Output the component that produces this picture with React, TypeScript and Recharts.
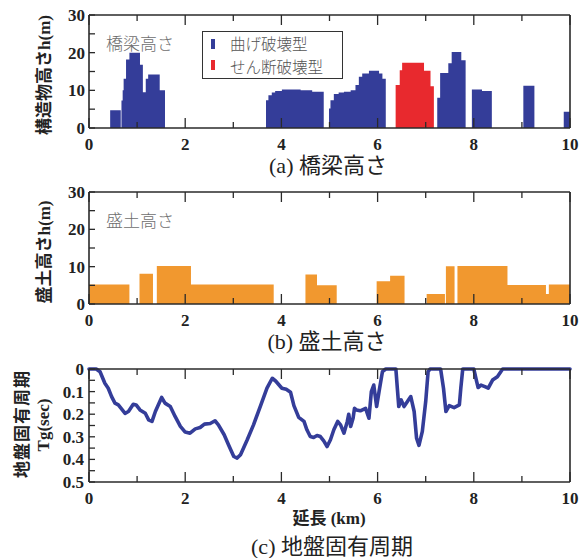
import React from 'react';
import { ComposedChart, Area, Line, XAxis, YAxis } from 'recharts';

// ---------- data ----------
const bridgeKm = [0, 0.44, 0.66, 0.675, 0.70, 0.72, 0.77, 0.84, 1.06, 1.12, 1.18, 1.23, 1.47, 1.58, 3.68, 3.73, 3.80, 3.87, 4.01, 4.40, 4.64, 4.88, 4.99, 5.02, 5.09, 5.19, 5.30, 5.44, 5.54, 5.61, 5.68, 5.82, 6.03, 6.10, 6.17, 6.375, 6.46, 6.51, 6.965, 7.10, 7.17, 7.24, 7.30, 7.47, 7.54, 7.74, 7.83, 7.96, 8.17, 8.375, 9.03, 9.26, 9.87, 10];
const bendH = [0, 4.7, 0, 7.3, 10, 13.1, 18.2, 20, 16.8, 9.5, 13.1, 14.2, 10, 0, 7.4, 8.7, 9.4, 9.8, 10.2, 10.0, 9.6, 0, 5.2, 7.4, 9.0, 9.4, 9.6, 10, 11.4, 13.6, 14.5, 15.2, 14.5, 13.1, 0, 0, 0, 0, 0, 0, 0, 8.0, 14.6, 17.2, 20.2, 18, 0, 10.2, 9.8, 0, 11.2, 0, 4.3, 4.3];
const shearH = [0, 0, 0, 0, 0, 0, 0, 0, 0, 0, 0, 0, 0, 0, 0, 0, 0, 0, 0, 0, 0, 0, 0, 0, 0, 0, 0, 0, 0, 0, 0, 0, 0, 0, 0, 11.4, 15.3, 17.3, 15.2, 11.1, 0, 0, 0, 0, 0, 0, 0, 0, 0, 0, 0, 0, 0, 0];

const fillKm = [0, 0.84, 1.05, 1.33, 1.41, 2.12, 3.84, 4.50, 4.74, 5.15, 5.98, 6.26, 6.56, 7.02, 7.40, 7.42, 7.60, 7.66, 8.70, 9.50, 9.56, 10];
const fillH = [5.2, 0, 8.1, 0, 10.2, 5.2, 0, 7.9, 5.0, 0, 6.1, 7.6, 0, 2.7, 0, 10.1, 0, 10.2, 5.1, 2.7, 5.2, 5.2];

const tgKm = [0, 0.15, 0.23, 0.33, 0.40, 0.47, 0.54, 0.61, 0.75, 0.82, 0.92, 0.98, 1.06, 1.17, 1.24, 1.31, 1.38, 1.51, 1.58, 1.69, 1.79, 1.90, 2.00, 2.10, 2.21, 2.31, 2.40, 2.52, 2.62, 2.69, 2.81, 2.90, 3.01, 3.08, 3.15, 3.29, 3.42, 3.56, 3.70, 3.81, 3.88, 4.01, 4.10, 4.19, 4.26, 4.36, 4.47, 4.53, 4.60, 4.67, 4.74, 4.81, 4.88, 4.95, 5.02, 5.09, 5.17, 5.23, 5.30, 5.37, 5.40, 5.44, 5.49, 5.52, 5.56, 5.64, 5.75, 5.82, 5.87, 5.92, 5.98, 6.03, 6.10, 6.17, 6.38, 6.41, 6.44, 6.49, 6.55, 6.62, 6.69, 6.76, 6.81, 6.86, 6.93, 7.00, 7.05, 7.09, 7.31, 7.37, 7.42, 7.49, 7.59, 7.70, 7.73, 7.77, 8.00, 8.06, 8.09, 8.15, 8.23, 8.30, 8.39, 8.49, 8.60, 10];
const tgSec = [0, 0, 0.012, 0.063, 0.085, 0.122, 0.151, 0.159, 0.196, 0.188, 0.156, 0.159, 0.181, 0.196, 0.225, 0.232, 0.188, 0.126, 0.151, 0.166, 0.210, 0.254, 0.279, 0.284, 0.265, 0.259, 0.244, 0.241, 0.229, 0.247, 0.291, 0.335, 0.387, 0.394, 0.379, 0.313, 0.247, 0.166, 0.085, 0.041, 0.053, 0.085, 0.09, 0.103, 0.162, 0.214, 0.232, 0.269, 0.299, 0.303, 0.294, 0.299, 0.318, 0.343, 0.313, 0.269, 0.232, 0.247, 0.284, 0.232, 0.200, 0.254, 0.218, 0.174, 0.181, 0.185, 0.174, 0.218, 0.100, 0.071, 0.166, 0.100, 0.012, 0, 0, 0.085, 0.166, 0.137, 0.166, 0.144, 0.122, 0.188, 0.306, 0.338, 0.276, 0.144, 0.012, 0, 0, 0.085, 0.188, 0.162, 0.171, 0.159, 0.085, 0, 0, 0.056, 0.082, 0.071, 0.078, 0.085, 0.049, 0.034, 0, 0];

const kmTicks = [0, 1, 2, 3, 4, 5, 6, 7, 8, 9, 10];
const kmLabels = [0, 2, 4, 6, 8, 10];
const heightTicks = [0, 5, 10, 15, 20, 25, 30];
const heightLabels = [0, 10, 20, 30];
const tgTicks = [0, 0.05, 0.1, 0.15, 0.2, 0.25, 0.3, 0.35, 0.4, 0.45, 0.5];
const tgLabels = [0, 0.1, 0.2, 0.3, 0.4, 0.5];
const legendNames = ['曲げ破壊型', 'せん断破壊型'];

const bridgeData = bridgeKm.map((x, i) => ({ x, bend: bendH[i], shear: shearH[i] }));
const fillData = fillKm.map((x, i) => ({ x, h: fillH[i] }));
const tgData = tgKm.map((x, i) => ({ x, tg: tgSec[i] }));

// ---------- styles ----------
const SERIF = "'Liberation Serif', 'Noto Sans CJK JP', serif";
const JP = "'Noto Sans CJK JP', sans-serif";
const AXIS = '#2a2a2a';
const BLUE = '#343d99';
const RED = '#e8292e';
const ORANGE = '#f1982f';

const axisLine = { stroke: AXIS, strokeWidth: 1.6 };
const TW = 1.3;

const isIn = (arr: number[], v: number) => arr.some((l) => Math.abs(l - v) < 1e-6);

const bottomTick = (p: any) => {
  const v = p.payload.value;
  const major = isIn(kmLabels, v);
  return (
    <g>
      <line x1={p.x} x2={p.x} y1={p.y} y2={p.y - (major ? 10 : 6)} stroke={AXIS} strokeWidth={TW} />
      {major && (
        <text x={p.x} y={p.y + 22} textAnchor="middle" fontFamily={SERIF} fontWeight="bold" fontSize={17} fill="#222">
          {v}
        </text>
      )}
    </g>
  );
};

const topTick = (p: any) => {
  const v = p.payload.value;
  const major = isIn(kmLabels, v);
  return <line x1={p.x} x2={p.x} y1={p.y} y2={p.y + (major ? 10 : 6)} stroke={AXIS} strokeWidth={TW} />;
};

const makeLeftTick = (labels: number[], fmt: (v: number) => string, gap: number) => (p: any) => {
  const v = p.payload.value;
  const show = isIn(labels, v);
  return (
    <g>
      <line x1={p.x} x2={p.x + 6} y1={p.y} y2={p.y} stroke={AXIS} strokeWidth={TW} />
      {show && (
        <text x={p.x - gap} y={p.y + 6} textAnchor="end" fontFamily={SERIF} fontWeight="bold" fontSize={17} fill="#222">
          {fmt(v)}
        </text>
      )}
    </g>
  );
};

const rightTick = (p: any) => <line x1={p.x} x2={p.x - 6} y1={p.y} y2={p.y} stroke={AXIS} strokeWidth={TW} />;

function frameAxes(yTicks: number[], yDomain: [number, number], reversed: boolean, leftTick: any) {
  return [
    <XAxis key="b" xAxisId="b" dataKey="x" type="number" domain={[0, 10]} ticks={kmTicks} interval={0}
      height={1} tickSize={0} tickMargin={0} axisLine={axisLine} tickLine={false} tick={bottomTick} />,
    <XAxis key="t" xAxisId="t" orientation="top" dataKey="x" type="number" domain={[0, 10]} ticks={kmTicks} interval={0}
      height={1} tickSize={0} tickMargin={0} axisLine={axisLine} tickLine={false} tick={topTick} />,
    <YAxis key="l" yAxisId="l" type="number" domain={yDomain} reversed={reversed} ticks={yTicks} interval={0}
      width={1} tickSize={0} tickMargin={0} axisLine={axisLine} tickLine={false} tick={leftTick} />,
    <YAxis key="r" yAxisId="r" orientation="right" type="number" domain={yDomain} reversed={reversed} ticks={yTicks} interval={0}
      width={1} tickSize={0} tickMargin={0} axisLine={axisLine} tickLine={false} tick={rightTick} />,
  ];
}

const heightTick = makeLeftTick(heightLabels, (v) => String(v), 4);
const tgTick = makeLeftTick(tgLabels, (v) => (v === 0 ? '0' : v.toFixed(1)), 5);

const abs = (left: number, top: number): React.CSSProperties => ({ position: 'absolute', left, top });

const RotLabel = ({ cx, cy, children, size = 17, spacing = 0 }: any) => (
  <div style={{
    position: 'absolute', left: cx, top: cy, transform: 'translate(-50%, -50%) rotate(-90deg)',
    whiteSpace: 'nowrap', fontFamily: SERIF, fontWeight: 'bold', fontSize: size, color: '#222',
    letterSpacing: spacing, lineHeight: 1,
  }}>{children}</div>
);

const Centered = ({ cx, cy, children, size, weight = 'normal', color = '#222', family = SERIF }: any) => (
  <div style={{
    position: 'absolute', left: cx, top: cy, transform: 'translate(-50%, -50%)', whiteSpace: 'nowrap',
    fontFamily: family, fontWeight: weight, fontSize: size, color, lineHeight: 1,
  }}>{children}</div>
);

const legendText: React.CSSProperties = {
  position: 'absolute', left: 27, fontFamily: JP, fontWeight: 300, fontSize: 15.5, color: '#555',
  lineHeight: 'normal', whiteSpace: 'nowrap',
};

export default function App() {
  return (
    <div style={{ position: 'absolute', left: 0, top: 0, width: 584, height: 558, background: '#fff', overflow: 'hidden' }}>
      {/* (a) bridge height */}
      <div style={abs(0, 0)}>
        <ComposedChart width={584} height={175} data={bridgeData} margin={{ top: 14, right: 13, bottom: 46, left: 88 }}>
          {frameAxes(heightTicks, [0, 30], false, heightTick)}
          <Area xAxisId="b" yAxisId="l" type="stepAfter" dataKey="bend" stroke="none" fill={BLUE} fillOpacity={1} isAnimationActive={false} />
          <Area xAxisId="b" yAxisId="l" type="stepAfter" dataKey="shear" stroke="none" fill={RED} fillOpacity={1} isAnimationActive={false} />
        </ComposedChart>
      </div>

      {/* (b) embankment height */}
      <div style={abs(0, 175)}>
        <ComposedChart width={584} height={170} data={fillData} margin={{ top: 16, right: 13, bottom: 40, left: 88 }}>
          {frameAxes(heightTicks, [0, 30], false, heightTick)}
          <Area xAxisId="b" yAxisId="l" type="stepAfter" dataKey="h" stroke="none" fill={ORANGE} fillOpacity={1} isAnimationActive={false} />
        </ComposedChart>
      </div>

      {/* (c) ground period */}
      <div style={abs(0, 350)}>
        <ComposedChart width={584} height={175} data={tgData} margin={{ top: 18, right: 13, bottom: 42, left: 88 }}>
          {frameAxes(tgTicks, [0, 0.5], true, tgTick)}
          <Line xAxisId="b" yAxisId="l" type="linear" dataKey="tg" stroke={BLUE} strokeWidth={3.6} dot={false}
            strokeLinejoin="round" strokeLinecap="round" isAnimationActive={false} />
        </ComposedChart>
      </div>

      {/* inner labels */}
      <Centered cx={140} cy={42} size={17} color="#6e6e6e" family={JP} weight={300}>橋梁高さ</Centered>
      <Centered cx={140} cy={219} size={17} color="#6e6e6e" family={JP} weight={300}>盛土高さ</Centered>

      {/* legend */}
      <div style={{
        position: 'absolute', left: 202, top: 31, width: 141, height: 48, boxSizing: 'border-box',
        border: '1.5px solid #333', background: '#fff',
      }}>
        <div style={{ position: 'absolute', left: 8, top: 7, width: 4, height: 10, background: BLUE }} />
        <div style={{ ...legendText, top: 0 }}>{legendNames[0]}</div>
        <div style={{ position: 'absolute', left: 8, top: 28, width: 4, height: 10, background: RED }} />
        <div style={{ ...legendText, top: 22.5 }}>{legendNames[1]}</div>
      </div>

      {/* y-axis titles */}
      <RotLabel cx={44} cy={75}>構造物高さh(m)</RotLabel>
      <RotLabel cx={44} cy={252}>盛土高さh(m)</RotLabel>
      <RotLabel cx={22} cy={424} spacing={1}>地盤固有周期</RotLabel>
      <RotLabel cx={43} cy={425}>Tg(sec)</RotLabel>

      {/* x title */}
      <Centered cx={329} cy={518} size={17} weight="bold">延長 (km)</Centered>

      {/* captions */}
      <Centered cx={328} cy={166} size={22}>(a) 橋梁高さ</Centered>
      <Centered cx={327} cy={342} size={22}>(b) 盛土高さ</Centered>
      <Centered cx={332} cy={547} size={22}>(c) 地盤固有周期</Centered>
    </div>
  );
}
